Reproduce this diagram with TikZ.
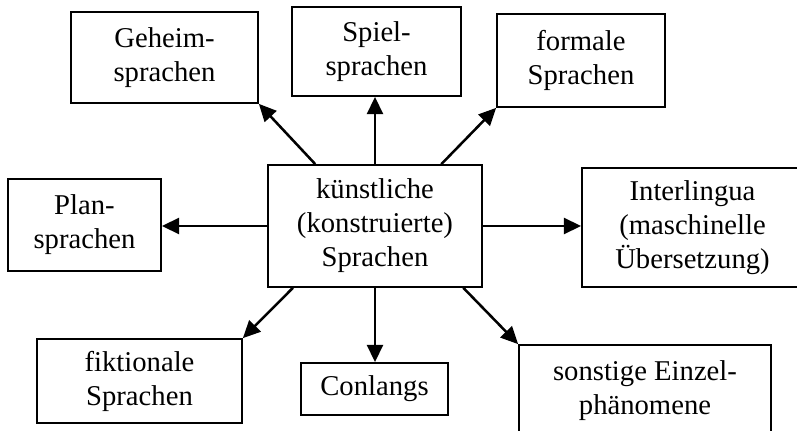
\documentclass[tikz,border=0pt]{standalone}
\usepackage{fontspec}
\setmainfont{Liberation Serif}
\usepackage{tikz}
\usetikzlibrary{arrows.meta,calc}

\begin{document}
\begin{tikzpicture}[x=0.75pt, y=-0.75pt,
      sprachbox/.style={rectangle, draw=black, line width=1.3pt,
                        fill=white, inner sep=0pt, align=center,
                        font=\fontsize{21.5}{25.5}\selectfont},
      arrow/.style={-{Triangle[length=13pt, width=12pt]}, line width=1.9pt},
    ]
      \useasboundingbox (0,0) rectangle (797,431);
      \clip (0,0) rectangle (797,431);
      %% Central node
      \node[sprachbox, minimum width=160.5pt, minimum height=91.5pt] (kuenstl)
            at (375, 226) {künstliche\\(konstruierte)\\Sprachen};
      %% Upper row
      \node[sprachbox, minimum width=140.25pt, minimum height=68.25pt] (geheim)
            at (164.5, 57.5) {Geheim-\\sprachen};
      \node[sprachbox, minimum width=126.75pt, minimum height=66.75pt] (spiel)
            at (376.5, 51.5) {Spiel-\\sprachen};
      \node[sprachbox, minimum width=126pt, minimum height=69.75pt] (formal)
            at (581, 60.5) {formale\\Sprachen};
      %% Middle row
      \node[sprachbox, minimum width=114.75pt, minimum height=69pt] (plan)
            at (84.5, 225) {Plan-\\sprachen};
      \node[sprachbox, minimum width=165.75pt, minimum height=89.25pt] (inter)
            at (692.5, 227.5) {Interlingua\\(maschinelle\\Übersetzung)};
      %% Lower row
      \node[sprachbox, minimum width=153.75pt, minimum height=63pt] (fiktion)
            at (139.5, 381) {fiktionale\\Sprachen};
      \node[sprachbox, minimum width=110.25pt, minimum height=39pt] (conlang)
            at (374.5, 389) {Conlangs};
      \node[sprachbox, minimum width=189pt, minimum height=68.25pt] (sonst)
            at (645, 390.5) {sonstige Einzel-\\phänomene};
      %% Arrows
      \draw[arrow] (kuenstl.134) -- (geheim.south east);
      \draw[arrow] (kuenstl.north) -- (kuenstl.north |- spiel.south);
      \draw[arrow] (kuenstl.43) -- (formal.south west);
      \draw[arrow] (kuenstl.west) -- (kuenstl.west -| plan.east);
      \draw[arrow] (kuenstl.east) -- (kuenstl.east -| inter.west);
      \draw[arrow] (kuenstl.217) -- (fiktion.north east);
      \draw[arrow] (kuenstl.south) -- (kuenstl.south |- conlang.north);
      \draw[arrow] (kuenstl.-35) -- (sonst.north west);
    \end{tikzpicture}
\end{document}
